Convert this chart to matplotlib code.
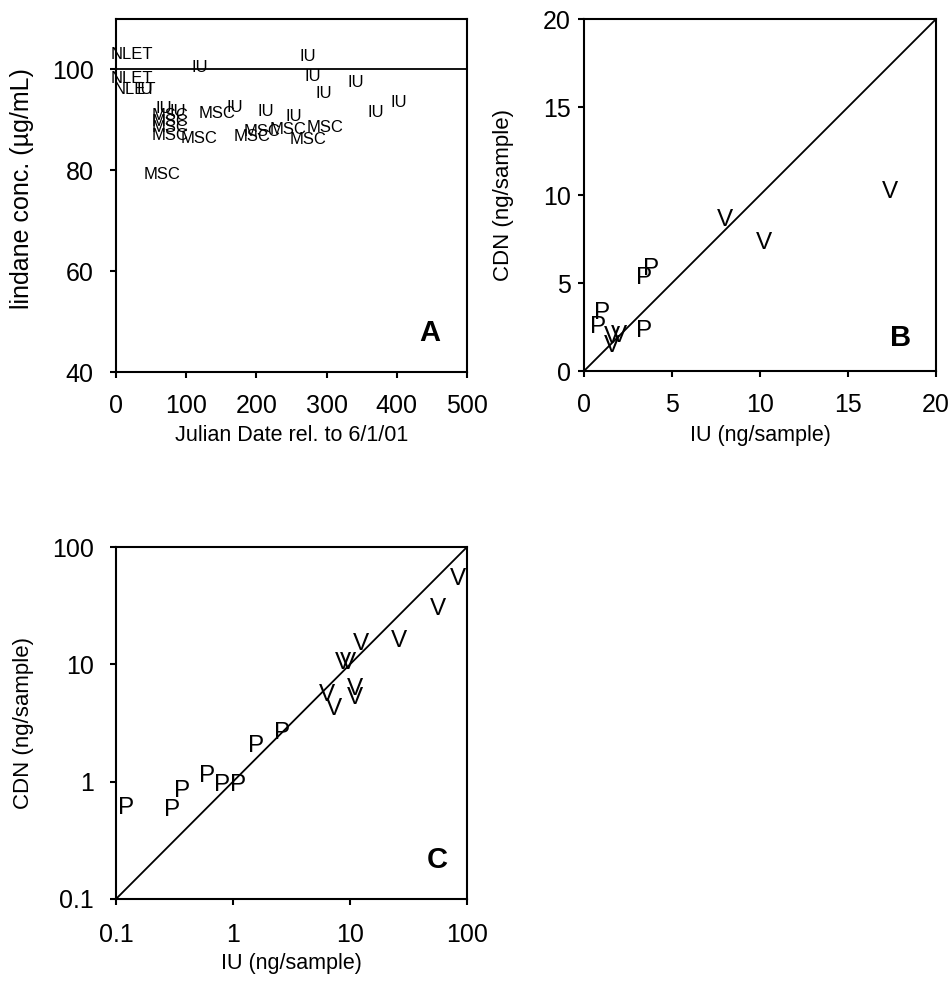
import numpy as np
import matplotlib
matplotlib.use('Agg')
import matplotlib.pyplot as plt

plt.rcParams['font.family'] = ['Liberation Sans', 'DejaVu Sans']
plt.rcParams['font.size'] = 18
plt.rcParams['axes.linewidth'] = 1.5
plt.rcParams['xtick.direction'] = 'out'
plt.rcParams['ytick.direction'] = 'out'
plt.rcParams['xtick.major.size'] = 4.5
plt.rcParams['ytick.major.size'] = 4.5
plt.rcParams['xtick.major.width'] = 1.5
plt.rcParams['ytick.major.width'] = 1.5
plt.rcParams['xtick.major.pad'] = 11
plt.rcParams['ytick.major.pad'] = 11.5

# panel A: lindane standard concentration by lab over time
a_lab = ['NLET', 'NLET', 'NLET', 'IU', 'IU', 'IU', 'IU',
         'MSC', 'MSC', 'MSC', 'MSC', 'MSC', 'MSC', 'IU', 'IU', 'IU',
         'MSC', 'MSC', 'MSC', 'MSC', 'MSC', 'MSC',
         'IU', 'IU', 'IU', 'IU', 'IU', 'IU']
a_day = [22.8, 22.8, 27, 41.3, 119, 68.4, 88.3,
         76.9, 76.9, 76.9, 76.9, 119, 143.4, 169.5, 213.4, 253.6,
         194.4, 208, 245, 297.7, 273.5, 66.2,
         273.5, 280.6, 296.3, 341.9, 370.4, 402.4]
a_conc = [103.0, 98.3, 96.1, 96.1, 100.3, 92.2, 91.6,
          90.8, 89.6, 88.4, 87.0, 86.4, 91.2, 92.4, 91.6, 90.6,
          86.7, 87.6, 88.0, 88.4, 86.2, 79.1,
          102.5, 98.6, 95.3, 97.4, 91.4, 93.4]
nominal = 100

# panel B: CDN vs IU, linear scale
b_lab = ['V', 'V', 'P', 'P', 'P', 'P', 'V', 'V', 'V', 'P', 'V']
b_iu = [8.0, 10.2, 3.39, 3.8, 1.05, 0.8, 1.59, 1.99, 1.59, 3.4, 17.4]
b_cdn = [8.6, 7.3, 5.31, 5.8, 3.3, 2.5, 1.93, 1.99, 1.42, 2.27, 10.2]

# panel C: CDN vs IU, log scale
c_lab = ['P', 'P', 'P', 'P', 'P', 'P', 'P', 'P',
         'V', 'V', 'V', 'V', 'V', 'V', 'V', 'V', 'V', 'V']
c_iu = [0.121, 0.304, 0.370, 0.596, 0.813, 1.10, 1.585, 2.65,
        83.8, 56.9, 26.0, 12.3, 8.63, 9.6, 6.36, 7.3, 11.0, 11.0]
c_cdn = [0.60, 0.577, 0.834, 1.12, 0.938, 0.938, 2.02, 2.60,
         53.5, 29.7, 15.8, 14.9, 10.3, 10.3, 5.48, 4.17, 6.2, 5.15]

fig = plt.figure(figsize=(9.53, 9.92), dpi=100)
axA = fig.add_axes([0.1217, 0.625, 0.3683, 0.3558])
axB = fig.add_axes([0.6128, 0.626, 0.3694, 0.3548])
axC = fig.add_axes([0.1217, 0.09375, 0.3683, 0.3548])

# A
axA.axhline(nominal, color='black', lw=1.3)
for lab, x, y in zip(a_lab, a_day, a_conc):
    axA.text(x, y, lab, fontsize=12, ha='center', va='center')
axA.set_xlim(0, 500)
axA.set_ylim(40, 110)
axA.set_xticks([0, 100, 200, 300, 400, 500])
axA.set_yticks([40, 60, 80, 100])
axA.set_xlabel('Julian Date rel. to 6/1/01', fontsize=15.5)
axA.set_ylabel('lindane conc. (\u00b5g/mL)', fontsize=18)
axA.xaxis.set_label_coords(0.5, -0.150)
axA.yaxis.set_label_coords(-0.234, 0.52)
axA.text(0.895, 0.11, 'A', transform=axA.transAxes, fontsize=21,
         fontweight='bold', ha='center', va='center')

# B
axB.plot([0, 20], [0, 20], color='black', lw=1.3)
for lab, x, y in zip(b_lab, b_iu, b_cdn):
    axB.text(x, y, lab, fontsize=17.5, ha='center', va='center')
axB.set_xlim(0, 20)
axB.set_ylim(0, 20)
axB.set_xticks([0, 5, 10, 15, 20])
axB.set_yticks([0, 5, 10, 15, 20])
axB.tick_params(axis='y', pad=5)
axB.set_xlabel('IU (ng/sample)', fontsize=15.5)
axB.set_ylabel('CDN (ng/sample)', fontsize=16)
axB.xaxis.set_label_coords(0.5, -0.153)
axB.yaxis.set_label_coords(-0.199, 0.5)
axB.text(0.898, 0.094, 'B', transform=axB.transAxes, fontsize=21,
         fontweight='bold', ha='center', va='center')

# C
axC.set_xscale('log')
axC.set_yscale('log')
axC.plot([0.1, 100], [0.1, 100], color='black', lw=1.3)
for lab, x, y in zip(c_lab, c_iu, c_cdn):
    axC.text(x, y, lab, fontsize=17.5, ha='center', va='center')
axC.set_xlim(0.1, 100)
axC.set_ylim(0.1, 100)
ticks = [0.1, 1, 10, 100]
axC.set_xticks(ticks)
axC.set_yticks(ticks)
axC.set_xticklabels(['0.1', '1', '10', '100'])
axC.set_yticklabels(['0.1', '1', '10', '100'])
axC.minorticks_off()
axC.tick_params(axis='x', pad=12.5)
axC.set_xlabel('IU (ng/sample)', fontsize=15.5)
axC.set_ylabel('CDN (ng/sample)', fontsize=16)
axC.xaxis.set_label_coords(0.5, -0.153)
axC.yaxis.set_label_coords(-0.234, 0.5)
axC.text(0.915, 0.11, 'C', transform=axC.transAxes, fontsize=21,
         fontweight='bold', ha='center', va='center')

for ax in (axA, axB, axC):
    ax.tick_params(top=False, right=False)

fig.savefig('out.png', dpi=100)
